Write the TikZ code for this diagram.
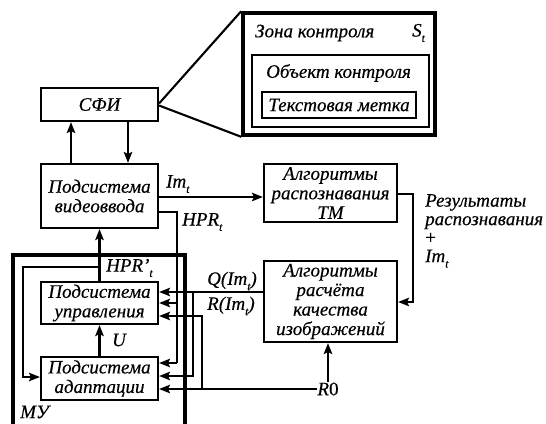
\documentclass[tikz,border=0pt]{standalone}
\usepackage{fontspec}
\setmainfont{Liberation Serif}[ItalicFeatures={FakeBold=0.4},UprightFeatures={FakeBold=0.4}]
\usetikzlibrary{arrows.meta,calc}
\newcommand\sbt[1]{\raisebox{-0.28em}{\fontsize{11.5}{11.5}\selectfont #1}}
\begin{document}
\begin{tikzpicture}[x=1pt,y=-1pt,
  every node/.style={font=\fontsize{19}{19.5}\selectfont\itshape},
  box/.style={draw,line width=2.1pt,inner sep=0pt,align=center},
  thickbox/.style={draw,line width=3.6pt,inner sep=0pt},
  conn/.style={line width=2.1pt},
  arr/.style={line width=2.1pt,-{Stealth[length=11pt,width=8.5pt,inset=2pt]}},
  lbl/.style={inner sep=0pt,align=left}]
\useasboundingbox (0,0) rectangle (546,423);
% zone
\node[thickbox,minimum width=192pt,minimum height=122pt] (zone) at (339,74) {};
\node[box,minimum width=177pt,minimum height=72pt] (obj) at (340.5,91) {};
\node[box,minimum width=154pt,minimum height=26pt] (tm) at (339,105) {Текстовая метка};
\node[lbl,anchor=west] (zt) at (255,33) {Зона контроля};
\node[lbl,anchor=west] (st) at (412,33) {S\sbt{t}};
\node[lbl,anchor=west] (ot) at (266,73) {Объект контроля};
% boxes
\node[box,minimum width=117pt,minimum height=33pt] (sfi) at (99.5,104.5) {СФИ};
\node[box,minimum width=117pt,minimum height=64pt] (video) at (99.5,196) {Подсистема\\видеоввода};
\node[box,minimum width=133pt,minimum height=58pt] (recog) at (330.5,193) {Алгоритмы\\распознавания\\ТМ};
\node[box,minimum width=133pt,minimum height=81pt] (qual) at (330.5,301.5) {Алгоритмы\\расчёта\\качества\\изображений};
\node[thickbox,minimum width=172pt,minimum height=190pt] (mu) at (99,350) {};
\node[box,minimum width=117pt,minimum height=42pt] (ctrl) at (99.5,303) {Подсистема\\управления};
\node[box,minimum width=117pt,minimum height=43pt] (adapt) at (99.5,378.5) {Подсистема\\адаптации};
\node[lbl] (r0) at (328,389) {\textit{R}\textup{0}};
% labels
\node[lbl,anchor=west] (lim) at (166,184) {Im\sbt{t}};
\node[lbl,anchor=west] (lhpr) at (182,222) {HPR\sbt{t}};
\node[lbl,anchor=west] (lhpr2) at (106,268) {HPR'\sbt{t}};
\node[lbl] (lu) at (119,340) {U};
\node[lbl,anchor=west] (lq) at (207,281) {Q(Im\sbt{t})};
\node[lbl,anchor=west] (lr) at (207,306) {R(Im\sbt{t})};
\node[lbl,anchor=west] (lmu) at (20,412) {МУ};
\node[lbl,anchor=north west,font=\fontsize{19}{18.5}\selectfont\itshape] (lres) at (425,194) {Результаты\\распознавания\\\textup{+}\\Im\sbt{t}};
% helper coordinates
\coordinate (xL) at (71,0);
\coordinate (xR) at (128,0);
\coordinate (yIm) at (0,197);
\coordinate (hprA) at (177,212);
\coordinate (hprB) at (177,363);
\coordinate (yH2) at (0,303);
\coordinate (recA) at (413,194);
\coordinate (recB) at (413,302);
\coordinate (qA) at (193,292);
\coordinate (qB) at (193,376);
\coordinate (rA) at (202,389);
\coordinate (rB) at (202,316);
\coordinate (hp1) at (100,267);
\coordinate (hp2) at (23,267);
\coordinate (hp3) at (23,377);
% zone lines
\draw[conn] ([yshift=1pt]sfi.east) -- (zone.north west);
\draw[conn] ([yshift=-1pt]sfi.east) -- (zone.south west);
% connectors
\draw[arr] (video.north -| xL) -- (sfi.south -| xL);
\draw[arr] (sfi.south -| xR) -- (video.north -| xR);
\draw[arr] (video.east |- yIm) -- (recog.west |- yIm);
\draw[conn] (video.east |- hprA) -- (hprA) -- (hprB);
\draw[arr] (hprB) -- (adapt.east |- hprB);
\draw[arr] (hprA |- yH2) -- (ctrl.east |- yH2);
\draw[arr] (recog.east |- recA) -- (recA) -- (recB) -- (qual.east |- recB);
\draw[arr] (qual.west |- qA) -- (ctrl.east |- qA);
\draw[arr] (qA) -- (qB) -- (adapt.east |- qB);
\draw[arr] (r0.west) -- (adapt.east |- r0.west);
\draw[arr] (rA) -- (rB) -- (ctrl.east |- rB);
\draw[arr] (r0.north) -- (qual.south -| r0.north);
\draw[arr] (ctrl.north) -- (video.south);
\draw[arr] (hp1) -- (hp2) -- (hp3) -- (adapt.west |- hp3);
\draw[arr] (adapt.north) -- (ctrl.south);
\end{tikzpicture}
\end{document}
